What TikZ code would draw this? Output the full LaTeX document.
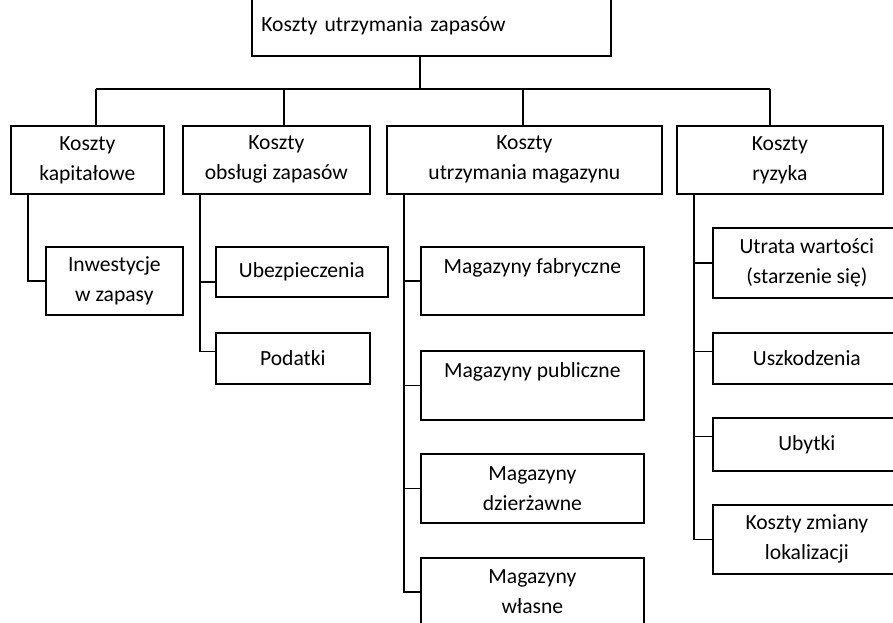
\documentclass[tikz,border=0pt]{standalone}
\usepackage{fontspec}
\setmainfont{Carlito}
\usetikzlibrary{calc}
\begin{document}
\begin{tikzpicture}[x=0.75pt, y=-0.75pt,
  every node/.style={font=\fontsize{16.2}{22.5}\selectfont, text=black},
  box/.style={draw, line width=1.3pt, align=center, inner sep=0pt, anchor=north west},
  link/.style={draw, line width=1.3pt}]
\useasboundingbox (0,0) rectangle (893,622);
\fill[white] (0,0) rectangle (893,622);
\clip (0,0) rectangle (893,622);

% root
\node[box, minimum width=359*0.75pt, minimum height=61*0.75pt, text width=340*0.75pt, align=left] (top) at (251,-6) {Koszty utrzymania zapasów};

% first level
\node[box, minimum width=153*0.75pt, minimum height=68*0.75pt] (kap) at (10,125) {Koszty\\kapitałowe};
\node[box, minimum width=187*0.75pt, minimum height=68*0.75pt] (obs) at (182,125) {Koszty\\obsługi zapasów};
\node[box, minimum width=275*0.75pt, minimum height=68*0.75pt] (mag) at (386,125) {Koszty\\utrzymania magazynu};
\node[box, minimum width=206*0.75pt, minimum height=68*0.75pt] (ryz) at (676,125) {Koszty\\ryzyka};

% capital costs
\node[box, minimum width=137*0.75pt, minimum height=68*0.75pt] (inw) at (45,246) {Inwestycje\\w zapasy};

% handling costs
\node[box, minimum width=172*0.75pt, minimum height=50*0.75pt] (ube) at (215,246) {Ubezpieczenia};
\node[box, minimum width=154*0.75pt, minimum height=51*0.75pt] (pod) at (215,332) {Podatki};

% warehouse costs
\node[box, minimum width=223*0.75pt, minimum height=68*0.75pt] (fab) at (420,246) {Magazyny fabryczne\\~};
\node[box, minimum width=223*0.75pt, minimum height=69*0.75pt] (pub) at (420,350) {Magazyny publiczne\\~};
\node[box, minimum width=223*0.75pt, minimum height=69*0.75pt] (dzi) at (420,453) {Magazyny\\dzierżawne};
\node[box, minimum width=223*0.75pt, minimum height=68*0.75pt] (wla) at (420,557) {Magazyny\\własne};

% risk costs
\node[box, minimum width=188*0.75pt, minimum height=70*0.75pt] (utr) at (712,227) {Utrata wartości\\(starzenie się)};
\node[box, minimum width=188*0.75pt, minimum height=51*0.75pt] (usz) at (712,332) {Uszkodzenia};
\node[box, minimum width=188*0.75pt, minimum height=53*0.75pt] (uby) at (712,417) {Ubytki};
\node[box, minimum width=188*0.75pt, minimum height=69*0.75pt] (lok) at (712,504) {Koszty zmiany\\lokalizacji};

% bus between root and first level
\coordinate (hub) at (420,89);
\coordinate (s1) at (96,89);
\coordinate (s2) at (284,89);
\coordinate (s3) at (523,89);
\coordinate (s4) at (770,89);
\draw[link] (hub |- top.south) -- (hub);
\draw[link] (s1) -- (s4);
\draw[link] (s1) -- (s1 |- kap.north);
\draw[link] (s2) -- (s2 |- obs.north);
\draw[link] (s3) -- (s3 |- mag.north);
\draw[link] (s4) -- (s4 |- ryz.north);

% trunks
\coordinate (t1) at (28,0);
\coordinate (t2) at (200,0);
\coordinate (t3) at (404,0);
\coordinate (t4) at (694,0);

\draw[link] (t1 |- kap.south) |- (inw.west);

\draw[link] (t2 |- obs.south) |- ($(pod.west)+(0,-7)$);
\draw[link] (t2 |- ube.west) ++(0,10) coordinate (u1) -- (u1 -| ube.west);

\draw[link] (t3 |- mag.south) |- (wla.west);
\draw[link] (t3 |- fab.west) -- (fab.west);
\draw[link] (t3 |- pub.west) -- (pub.west);
\draw[link] (t3 |- dzi.west) -- (dzi.west);

\draw[link] (t4 |- ryz.south) |- (lok.west);
\draw[link] (t4 |- utr.west) -- (utr.west);
\draw[link] ($(t4 |- usz.west)+(0,-7)$) coordinate (u2) -- (u2 -| usz.west);
\draw[link] ($(t4 |- uby.west)+(0,-8)$) coordinate (u3) -- (u3 -| uby.west);
\end{tikzpicture}
\end{document}
